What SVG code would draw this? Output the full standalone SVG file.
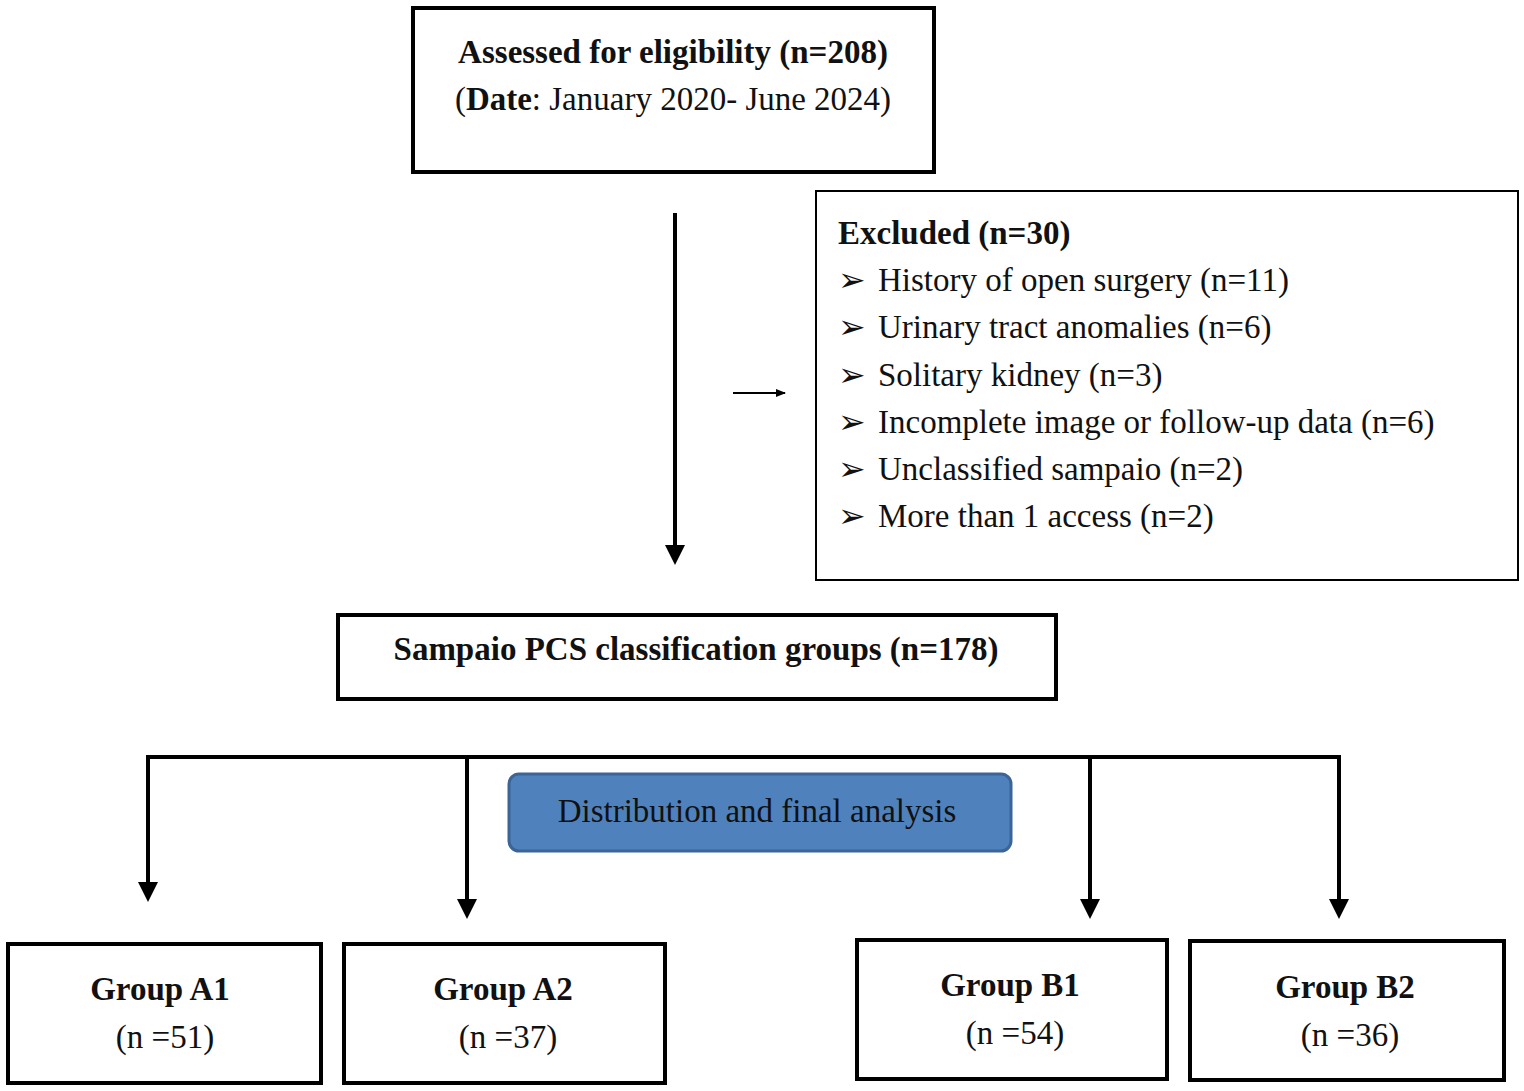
<svg xmlns="http://www.w3.org/2000/svg" width="1524" height="1091" viewBox="0 0 1524 1091">
<style>
text{font-family:"Liberation Serif","Times New Roman",serif;font-size:33px;fill:#111}
.b{font-weight:bold}
.box{fill:#fff;stroke:#000;stroke-width:4}
.c{text-anchor:middle}
.ln{stroke:#000;stroke-width:4;fill:none}
</style>
<defs>
<marker id="ah" markerWidth="5" markerHeight="5" refX="2.5" refY="2.5" orient="auto" markerUnits="strokeWidth"><path d="M0,0L5,2.5L0,5Z" fill="#000"/></marker>
<marker id="ah2" markerWidth="10" markerHeight="8" refX="9" refY="4" orient="auto" markerUnits="userSpaceOnUse"><path d="M0,0L10,4L0,8Z" fill="#000"/></marker>
</defs>
<rect width="1524" height="1091" fill="#fff"/>
<g id="connectors">
<line class="ln" x1="675" y1="213" x2="675" y2="555" marker-end="url(#ah)"/>
<line x1="733" y1="393" x2="785" y2="393" stroke="#000" stroke-width="2" marker-end="url(#ah2)"/>
<polyline class="ln" points="148,892 148,757 1339,757 1339,909"/>
<line class="ln" x1="148" y1="882" x2="148" y2="892" marker-end="url(#ah)"/>
<line class="ln" x1="467" y1="757" x2="467" y2="909" marker-end="url(#ah)"/>
<line class="ln" x1="1090" y1="757" x2="1090" y2="909" marker-end="url(#ah)"/>
<line class="ln" x1="1339" y1="892" x2="1339" y2="909" marker-end="url(#ah)"/>
</g>
<g id="assessed">
<rect class="box" x="413" y="8" width="521" height="164"/>
<text class="b c" x="673" y="63">Assessed for eligibility (n=208)</text>
<text class="c" x="673" y="110">(<tspan class="b">Date</tspan>: January 2020- June 2024)</text>
</g>
<g id="excluded">
<rect x="816" y="191" width="702" height="389" fill="#fff" stroke="#000" stroke-width="2"/>
<text class="b" x="838" y="244">Excluded  (n=30)</text>
<text x="838" y="291">➢<tspan x="878">History of open surgery  (n=11)</tspan></text>
<text x="838" y="338">➢<tspan x="878">Urinary tract anomalies (n=6)</tspan></text>
<text x="838" y="386">➢<tspan x="878">Solitary kidney (n=3)</tspan></text>
<text x="838" y="433">➢<tspan x="878">Incomplete image or follow-up data (n=6)</tspan></text>
<text x="838" y="480">➢<tspan x="878">Unclassified sampaio (n=2)</tspan></text>
<text x="838" y="527">➢<tspan x="878">More than 1 access (n=2)</tspan></text>
</g>
<g id="sampaio">
<rect class="box" x="338" y="615" width="718" height="84"/>
<text class="b c" x="696" y="660">Sampaio PCS classification groups (n=178)</text>
</g>
<g id="distribution">
<rect x="509" y="774" width="502" height="77" rx="10" fill="#4f81bd" stroke="#3a6596" stroke-width="3"/>
<text class="c" x="757" y="822">Distribution and final analysis</text>
</g>
<g id="a1"><rect class="box" x="8" y="944" width="313" height="139"/><text class="b c" x="160" y="1000">Group A1</text><text class="c" x="165" y="1048">(n =51)</text></g>
<g id="a2"><rect class="box" x="344" y="944" width="321" height="139"/><text class="b c" x="503" y="1000">Group A2</text><text class="c" x="508" y="1048">(n =37)</text></g>
<g id="b1"><rect class="box" x="857" y="940" width="310" height="139"/><text class="b c" x="1010" y="996">Group B1</text><text class="c" x="1015" y="1044">(n =54)</text></g>
<g id="b2"><rect class="box" x="1190" y="941" width="314" height="139"/><text class="b c" x="1345" y="998">Group B2</text><text class="c" x="1350" y="1046">(n =36)</text></g>
</svg>
